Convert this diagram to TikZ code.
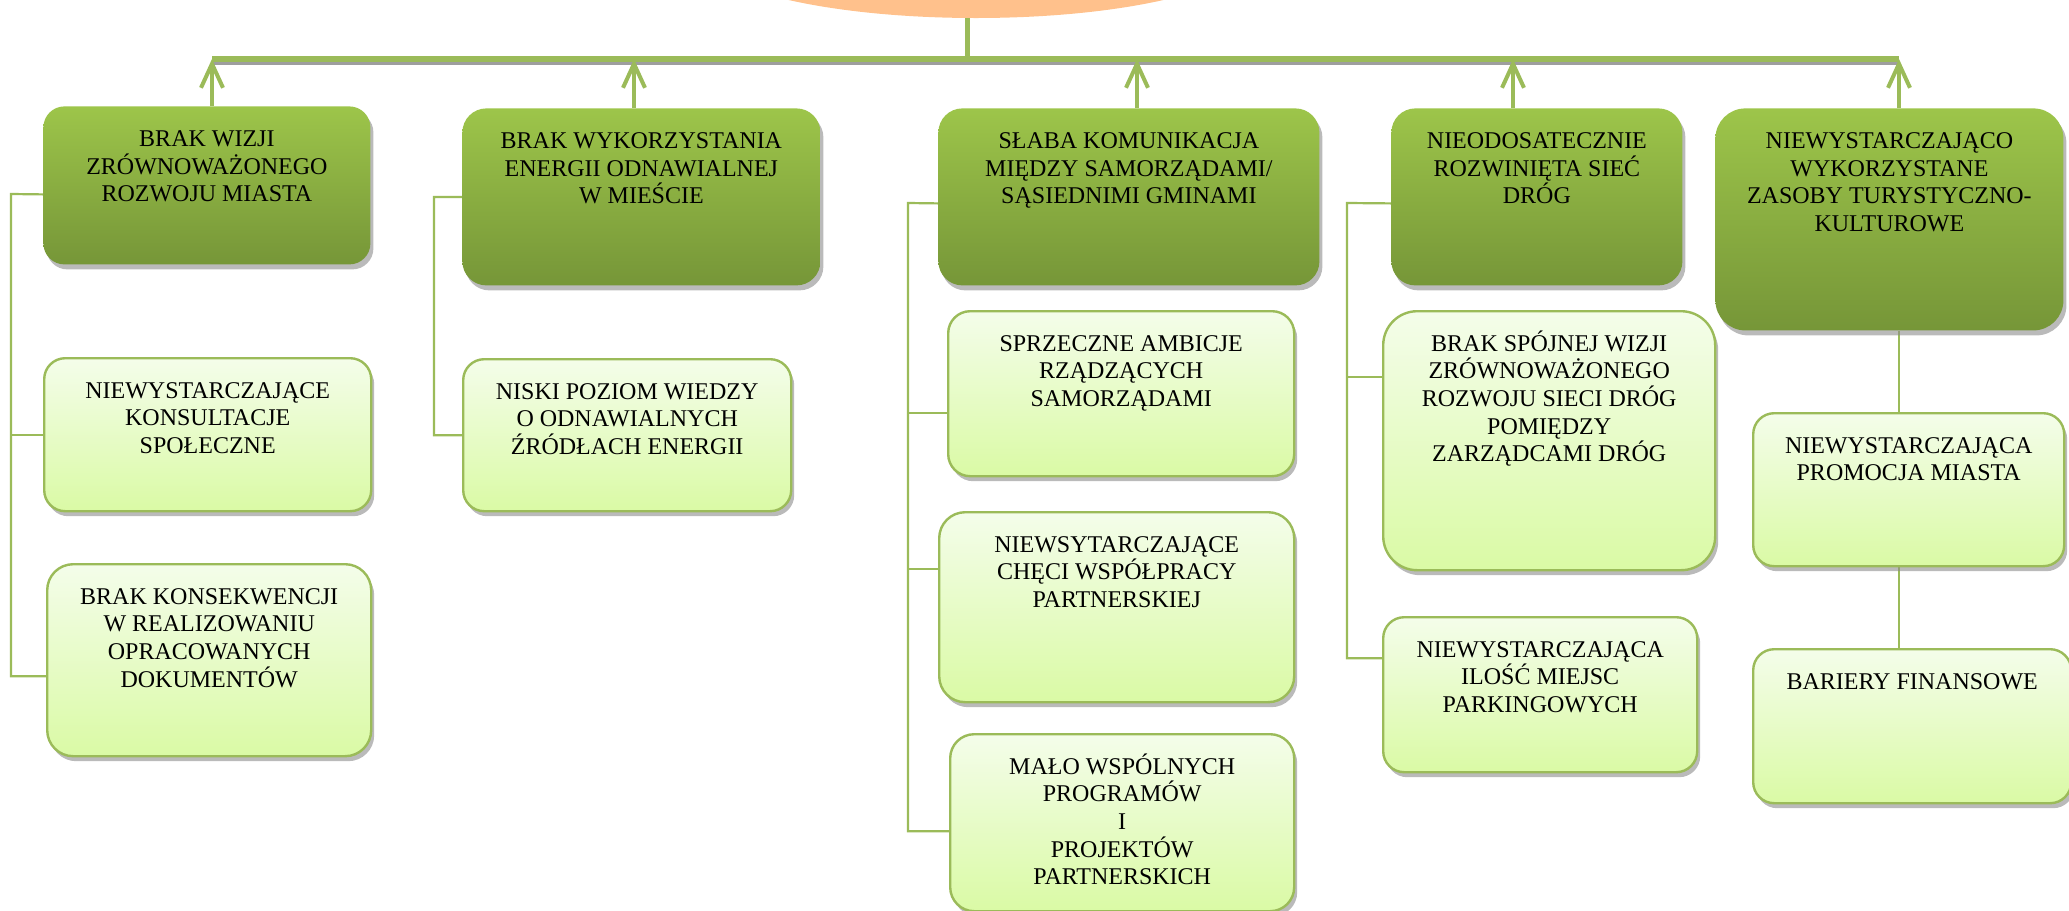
\documentclass[tikz,border=0pt]{standalone}
\usepackage{fontspec}
\setmainfont{Liberation Serif}
\usetikzlibrary{arrows.meta, positioning, shapes.geometric, shadows, calc, backgrounds}

\definecolor{verdeTop}{RGB}{157,197,74}
\definecolor{verdeBot}{RGB}{118,150,56}
\definecolor{claroTop}{RGB}{244,253,234}
\definecolor{claroBot}{RGB}{218,250,165}
\definecolor{verdeLinea}{RGB}{155,187,89}
\definecolor{naranja}{RGB}{255,193,140}

\newlength{\px}
\setlength{\px}{0.5pt}
% texto arriba dentro de la caja (ancho, alto en px)
\newcommand{\caja}[3]{\parbox[c][#2\px][t]{#1\px}{\centering\rule{0pt}{20pt}#3\par}}

\begin{document}
\begin{tikzpicture}[x=0.5pt, y=-0.5pt,
    cabeza/.style={rectangle, rounded corners=10.5pt, inner sep=0pt, anchor=north west,
      top color=verdeTop, bottom color=verdeBot, font=\fontsize{12}{13.8}\selectfont,
      drop shadow={shadow xshift=1.5pt, shadow yshift=-2.5pt, fill=black!45, opacity=.6}},
    causa/.style={cabeza, top color=claroTop, bottom color=claroBot, draw=verdeLinea, line width=1.2pt},
    raiz/.style={ellipse, fill=naranja, minimum width=280pt, minimum height=70pt},
    linea/.style={verdeLinea, line width=1.1pt},
    flecha/.style={verdeLinea, line width=2pt, -{Straight Barb[length=12pt, width=11pt]}},
    barra/.style={verdeLinea, line width=3pt},
    sombra/.style={black!38, line width=1.5pt}]
  \useasboundingbox (0,0) rectangle (2069,911);
  \clip (0,0) rectangle (2069,911);

  % Problema central (cortado arriba)
  \node[raiz] (root) at (976,-52) {};

  % Causas principales
  \node[cabeza] (b1) at (43,106) {\caja{327}{158}{BRAK WIZJI\\ZRÓWNOWAŻONEGO\\ROZWOJU MIASTA}};
  \node[cabeza, rounded corners=12pt] (b2) at (462,108) {\caja{358}{177}{BRAK WYKORZYSTANIA\\ENERGII ODNAWIALNEJ\\W MIEŚCIE}};
  \node[cabeza, rounded corners=12pt] (b3) at (938,108) {\caja{381}{177}{SŁABA KOMUNIKACJA\\MIĘDZY SAMORZĄDAMI/\\SĄSIEDNIMI GMINAMI}};
  \node[cabeza, rounded corners=12pt] (b4) at (1391,108) {\caja{291}{177}{NIEODOSATECZNIE\\ROZWINIĘTA SIEĆ\\DRÓG}};
  \node[cabeza, rounded corners=15pt] (b5) at (1715,108) {\caja{348}{222}{NIEWYSTARCZAJĄCO\\WYKORZYSTANE\\ZASOBY TURYSTYCZNO-\\KULTUROWE}};

  % Causas secundarias
  \node[causa] (b1a) at (43,357) {\caja{327}{153}{NIEWYSTARCZAJĄCE\\KONSULTACJE\\SPOŁECZNE}};
  \node[causa, rounded corners=13pt] (b1b) at (46,563) {\caja{324}{192}{BRAK KONSEKWENCJI\\W REALIZOWANIU\\OPRACOWANYCH\\DOKUMENTÓW}};
  \node[causa] (b2a) at (462,358) {\caja{328}{152}{NISKI POZIOM WIEDZY\\O ODNAWIALNYCH\\ŹRÓDŁACH ENERGII}};
  \node[causa, rounded corners=11pt] (b3a) at (947,310) {\caja{346}{165}{SPRZECZNE AMBICJE\\RZĄDZĄCYCH\\SAMORZĄDAMI}};
  \node[causa, rounded corners=13pt] (b3b) at (938,511) {\caja{355}{190}{NIEWSYTARCZAJĄCE\\CHĘCI WSPÓŁPRACY\\PARTNERSKIEJ}};
  \node[causa, rounded corners=12pt] (b3c) at (949,733) {\caja{344}{177}{MAŁO WSPÓLNYCH\\PROGRAMÓW\\I\\PROJEKTÓW\\PARTNERSKICH}};
  \node[causa, rounded corners=17pt] (b4a) at (1382,310) {\caja{332}{259}{BRAK SPÓJNEJ WIZJI\\ZRÓWNOWAŻONEGO\\ROZWOJU SIECI DRÓG\\POMIĘDZY\\ZARZĄDCAMI DRÓG}};
  \node[causa] (b4b) at (1382,616) {\caja{314}{155}{NIEWYSTARCZAJĄCA\\ILOŚĆ MIEJSC\\PARKINGOWYCH}};
  \node[causa] (b5a) at (1752,412) {\caja{311}{153}{NIEWYSTARCZAJĄCA\\PROMOCJA MIASTA}};
  \node[causa] (b5b) at (1752,648) {\caja{318}{154}{BARIERY FINANSOWE}};

  % Barra superior y flechas
  \coordinate (hub) at (967,59);
  \coordinate (t1) at (212,59);
  \coordinate (t2) at (634,59);
  \coordinate (t3) at (1137,59);
  \coordinate (t4) at (1513,59);
  \coordinate (t5) at (1899,59);
  \draw[sombra] ([yshift=-2.25pt]t1) -- ([yshift=-2.25pt]t5);
  \draw[barra] (t1) -- (t5);
  \draw[verdeLinea, line width=2.5pt] (root.south -| hub) -- (hub);
  \foreach \i in {1,...,5}
    \draw[flecha] (t\i |- b\i.north) -- (t\i);

  % Conectores laterales
  \begin{scope}[on background layer]
    \coordinate (s1) at (11,194);
    \coordinate (s2) at (434,197);
    \coordinate (s3) at (908,203);
    \coordinate (s4) at (1347,203);
    \coordinate (s5) at (1899,0);
    \draw[linea] ($(b1.west)+(0,9)$) -- (s1) |- ($(b1b.west)+(0,16)$);
    \draw[linea] (b1a.west) -| (s1);
    \draw[linea] (b2.west) -- (s2) |- (b2a.west);
    \draw[linea] ($(b3.west)+(0,6.5)$) -- (s3) |- ($(b3c.west)+(0,8.5)$);
    \draw[linea] ($(b3a.west)+(0,19.5)$) -| (s3);
    \draw[linea] ($(b3b.west)+(0,-38)$) -| (s3);
    \draw[linea] ($(b4.west)+(0,6.5)$) -- (s4) |- ($(b4b.west)+(0,-36.5)$);
    \draw[linea] ($(b4a.west)+(0,-63.5)$) -| (s4);
    \draw[linea] (s5 |- b5.south) -- (s5 |- b5a.north);
    \draw[linea] (s5 |- b5a.south) -- (s5 |- b5b.north);
  \end{scope}
\end{tikzpicture}
\end{document}
